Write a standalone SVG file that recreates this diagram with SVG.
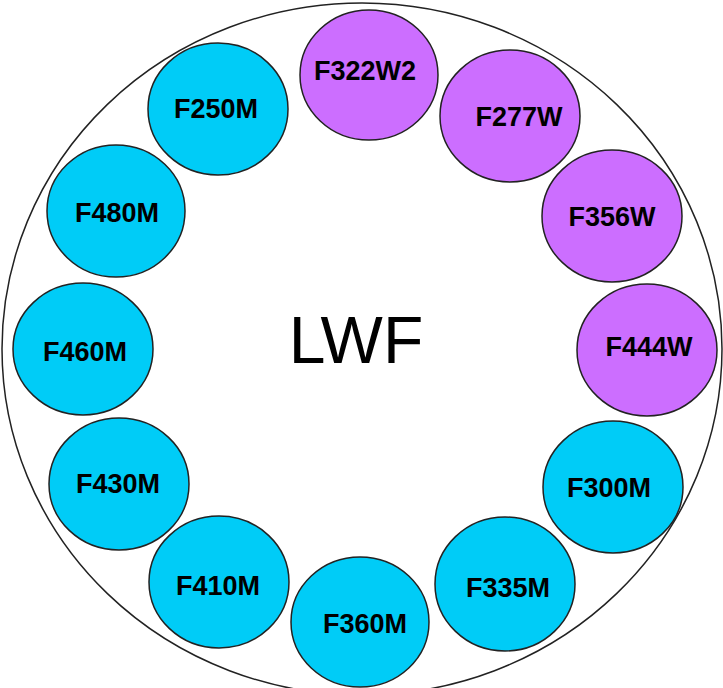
<svg xmlns="http://www.w3.org/2000/svg" width="723" height="688" viewBox="0 0 723 688">
  <style>
    .ring { fill: #ffffff; stroke: #222222; stroke-width: 1.5; }
    .filt { stroke: #222222; stroke-width: 1.5; }
    .m { fill: #00ccf7; }
    .w { fill: #cc6eff; }
    .lbl { font-family: "Liberation Sans", Arial, sans-serif; font-weight: bold; font-size: 27px; fill: #000000; text-anchor: middle; }
    .title { font-family: "Liberation Sans", Arial, sans-serif; font-size: 66px; fill: #000000; text-anchor: middle; }
  </style>
  <rect width="723" height="688" fill="#ffffff"/>

  <!-- outer wheel -->
  <g id="wheel">
    <ellipse class="ring" cx="362" cy="349" rx="360" ry="346"/>
    <text class="title" x="356" y="363">LWF</text>
  </g>

  <!-- filter positions -->
  <g id="F322W2">
    <ellipse class="filt w" cx="369" cy="75" rx="69" ry="65"/>
    <text class="lbl" x="365" y="80">F322W2</text>
  </g>
  <g id="F277W">
    <ellipse class="filt w" cx="510" cy="116" rx="70" ry="66"/>
    <text class="lbl" x="519" y="126">F277W</text>
  </g>
  <g id="F356W">
    <ellipse class="filt w" cx="612" cy="216" rx="70" ry="66"/>
    <text class="lbl" x="612" y="226">F356W</text>
  </g>
  <g id="F444W">
    <ellipse class="filt w" cx="647" cy="350" rx="70" ry="66"/>
    <text class="lbl" x="649" y="356">F444W</text>
  </g>
  <g id="F300M">
    <ellipse class="filt m" cx="613" cy="487" rx="70" ry="66"/>
    <text class="lbl" x="609" y="497">F300M</text>
  </g>
  <g id="F335M">
    <ellipse class="filt m" cx="505" cy="584" rx="70" ry="67"/>
    <text class="lbl" x="508" y="597">F335M</text>
  </g>
  <g id="F360M">
    <ellipse class="filt m" cx="360" cy="622" rx="69" ry="65"/>
    <text class="lbl" x="365" y="633">F360M</text>
  </g>
  <g id="F410M">
    <ellipse class="filt m" cx="219" cy="582" rx="70" ry="66"/>
    <text class="lbl" x="218" y="595">F410M</text>
  </g>
  <g id="F430M">
    <ellipse class="filt m" cx="119" cy="484" rx="70" ry="66"/>
    <text class="lbl" x="118" y="493">F430M</text>
  </g>
  <g id="F460M">
    <ellipse class="filt m" cx="83" cy="349" rx="70" ry="66"/>
    <text class="lbl" x="85" y="361">F460M</text>
  </g>
  <g id="F480M">
    <ellipse class="filt m" cx="116" cy="211" rx="69" ry="66"/>
    <text class="lbl" x="117" y="222">F480M</text>
  </g>
  <g id="F250M">
    <ellipse class="filt m" cx="218" cy="109" rx="70" ry="66"/>
    <text class="lbl" x="216" y="118">F250M</text>
  </g>

  <!-- no connectors in this wheel -->
  <g id="connectors"/>
</svg>
